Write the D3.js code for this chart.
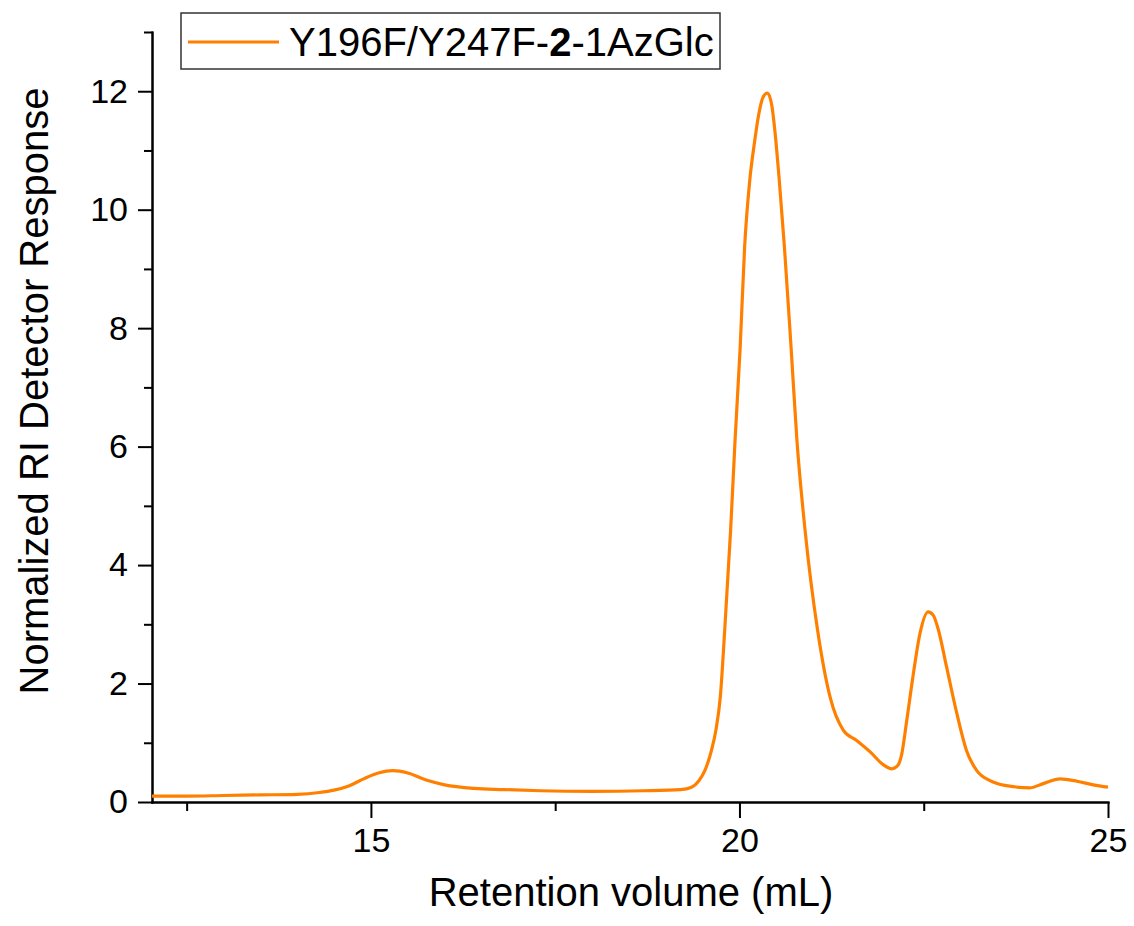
<!DOCTYPE html>
<html>
<head>
<meta charset="utf-8">
<script src="https://cdn.jsdelivr.net/npm/d3@7"></script>
<style>
  body { margin: 0; background: #fff; }
  text { font-family: "Liberation Sans", Arial, sans-serif; fill: #000; }
</style>
</head>
<body>
<div class="svg_area"></div>
<script>
// Chromatogram - retention volume vs normalized RI response

// data
var retention = [12.03, 12.5, 13.0, 13.5, 14.0, 14.3, 14.5, 14.7, 14.9, 15.1, 15.3, 15.5, 15.75, 16.0, 16.4, 16.8, 17.3, 18.0, 18.7, 19.2,
  19.35, 19.45, 19.53, 19.62, 19.68, 19.74, 19.80, 19.88, 19.94, 20.01, 20.07, 20.14, 20.20, 20.26, 20.32, 20.38, 20.44, 20.48, 20.54, 20.61, 20.70,
  20.78, 20.89, 21.06, 21.23, 21.41, 21.59, 21.77, 21.95, 22.07, 22.15, 22.20, 22.27, 22.36, 22.45, 22.56, 22.63, 22.70, 22.81, 22.95, 23.08,
  23.22, 23.40, 23.6, 23.94, 24.12, 24.35, 24.58, 24.80, 25.0];
var response = [0.10, 0.10, 0.11, 0.12, 0.13, 0.16, 0.20, 0.27, 0.39, 0.49, 0.53, 0.49, 0.37, 0.29, 0.23, 0.21, 0.19, 0.18, 0.19, 0.21,
  0.25, 0.36, 0.53, 0.87, 1.21, 1.77, 2.90, 4.59, 6.10, 7.68, 9.37, 10.5, 11.1, 11.6, 11.9, 11.97, 11.75, 11.34, 10.5, 9.37, 7.68,
  6.10, 4.59, 2.90, 1.77, 1.21, 1.04, 0.85, 0.63, 0.56, 0.62, 0.80, 1.38, 2.17, 2.85, 3.21, 3.15, 2.90, 2.28, 1.49, 0.87,
  0.53, 0.36, 0.28, 0.24, 0.31, 0.39, 0.35, 0.29, 0.25];
var xMajorTicks = [15, 20, 25];
var xMinorTicks = [12.5, 17.5, 22.5];
var yMajorTicks = [0, 2, 4, 6, 8, 10, 12];
var yMinorTicks = [1, 3, 5, 7, 9, 11, 13];
var seriesName = ["Y196F/Y247F-", "2", "-1AzGlc"];

var svgWidth = 1134;
var svgHeight = 926;
var margin = { top: 32, right: 26, bottom: 124, left: 152 };
var chartWidth = svgWidth - margin.left - margin.right;
var chartHeight = svgHeight - margin.top - margin.bottom;

var svg = d3.select(".svg_area")
  .append("svg")
  .attr("width", svgWidth)
  .attr("height", svgHeight);

var chartGroup = svg.append("g")
  .attr("transform", `translate(${margin.left}, ${margin.top})`);

var data = retention.map((x, i) => ({ x: x, y: response[i] }));

var xScale = d3.scaleLinear().domain([12.03, 25]).range([0, chartWidth]);
var yScale = d3.scaleLinear().domain([0, 13]).range([chartHeight, 0]);

// axes - major ticks with labels, minor ticks without
var bottomAxis = d3.axisBottom(xScale).tickValues(xMajorTicks).tickSize(16).tickSizeOuter(0).tickPadding(10).tickFormat(d3.format("d"));
var bottomMinor = d3.axisBottom(xScale).tickValues(xMinorTicks).tickSize(9).tickSizeOuter(0).tickFormat("");
var leftAxis = d3.axisLeft(yScale).tickValues(yMajorTicks).tickSize(14).tickSizeOuter(0).tickPadding(10).tickFormat(d3.format("d"));
var leftMinor = d3.axisLeft(yScale).tickValues(yMinorTicks).tickSize(8).tickSizeOuter(0).tickFormat("");

function styleAxis(g) {
  g.selectAll("path, line").attr("stroke", "#000").attr("stroke-width", 2);
  g.selectAll("text").attr("font-size", 34).attr("fill", "#000")
    .attr("font-family", "Liberation Sans, Arial, sans-serif");
}

chartGroup.append("g").attr("transform", `translate(0, ${chartHeight})`).call(bottomMinor).call(styleAxis);
chartGroup.append("g").attr("transform", `translate(0, ${chartHeight})`).call(bottomAxis).call(styleAxis);
chartGroup.append("g").call(leftMinor).call(styleAxis);
chartGroup.append("g").call(leftAxis).call(styleAxis);
chartGroup.selectAll(".domain").attr("stroke-linecap", "square");

// the trace
var line = d3.line()
  .x(d => xScale(d.x))
  .y(d => yScale(d.y))
  .curve(d3.curveMonotoneX);

chartGroup.append("path")
  .datum(data)
  .attr("fill", "none")
  .attr("stroke", "#ff8000")
  .attr("stroke-width", 3.2)
  .attr("d", line);

// axis labels
chartGroup.append("text")
  .attr("x", 631 - margin.left)
  .attr("y", chartHeight + 104)
  .attr("text-anchor", "middle")
  .attr("font-size", 40)
  .text("Retention volume (mL)");

chartGroup.append("text")
  .attr("transform", "rotate(-90)")
  .attr("x", -(391 - margin.top))
  .attr("y", -margin.left + 48)
  .attr("text-anchor", "middle")
  .attr("font-size", 40)
  .text("Normalized RI Detector Response");

// legend
var legend = svg.append("g").attr("transform", "translate(181, 13)");
legend.append("rect")
  .attr("width", 539).attr("height", 56)
  .attr("fill", "#fff").attr("stroke", "#333").attr("stroke-width", 1.5);
legend.append("line")
  .attr("x1", 7).attr("x2", 98).attr("y1", 29).attr("y2", 29)
  .attr("stroke", "#ff8000").attr("stroke-width", 3.2);
var legendText = legend.append("text")
  .attr("x", 108).attr("y", 43)
  .attr("font-size", 40);
legendText.selectAll("tspan")
  .data(seriesName)
  .enter()
  .append("tspan")
  .attr("font-weight", (d, i) => i === 1 ? "bold" : "normal")
  .text(d => d);
</script>
</body>
</html>
